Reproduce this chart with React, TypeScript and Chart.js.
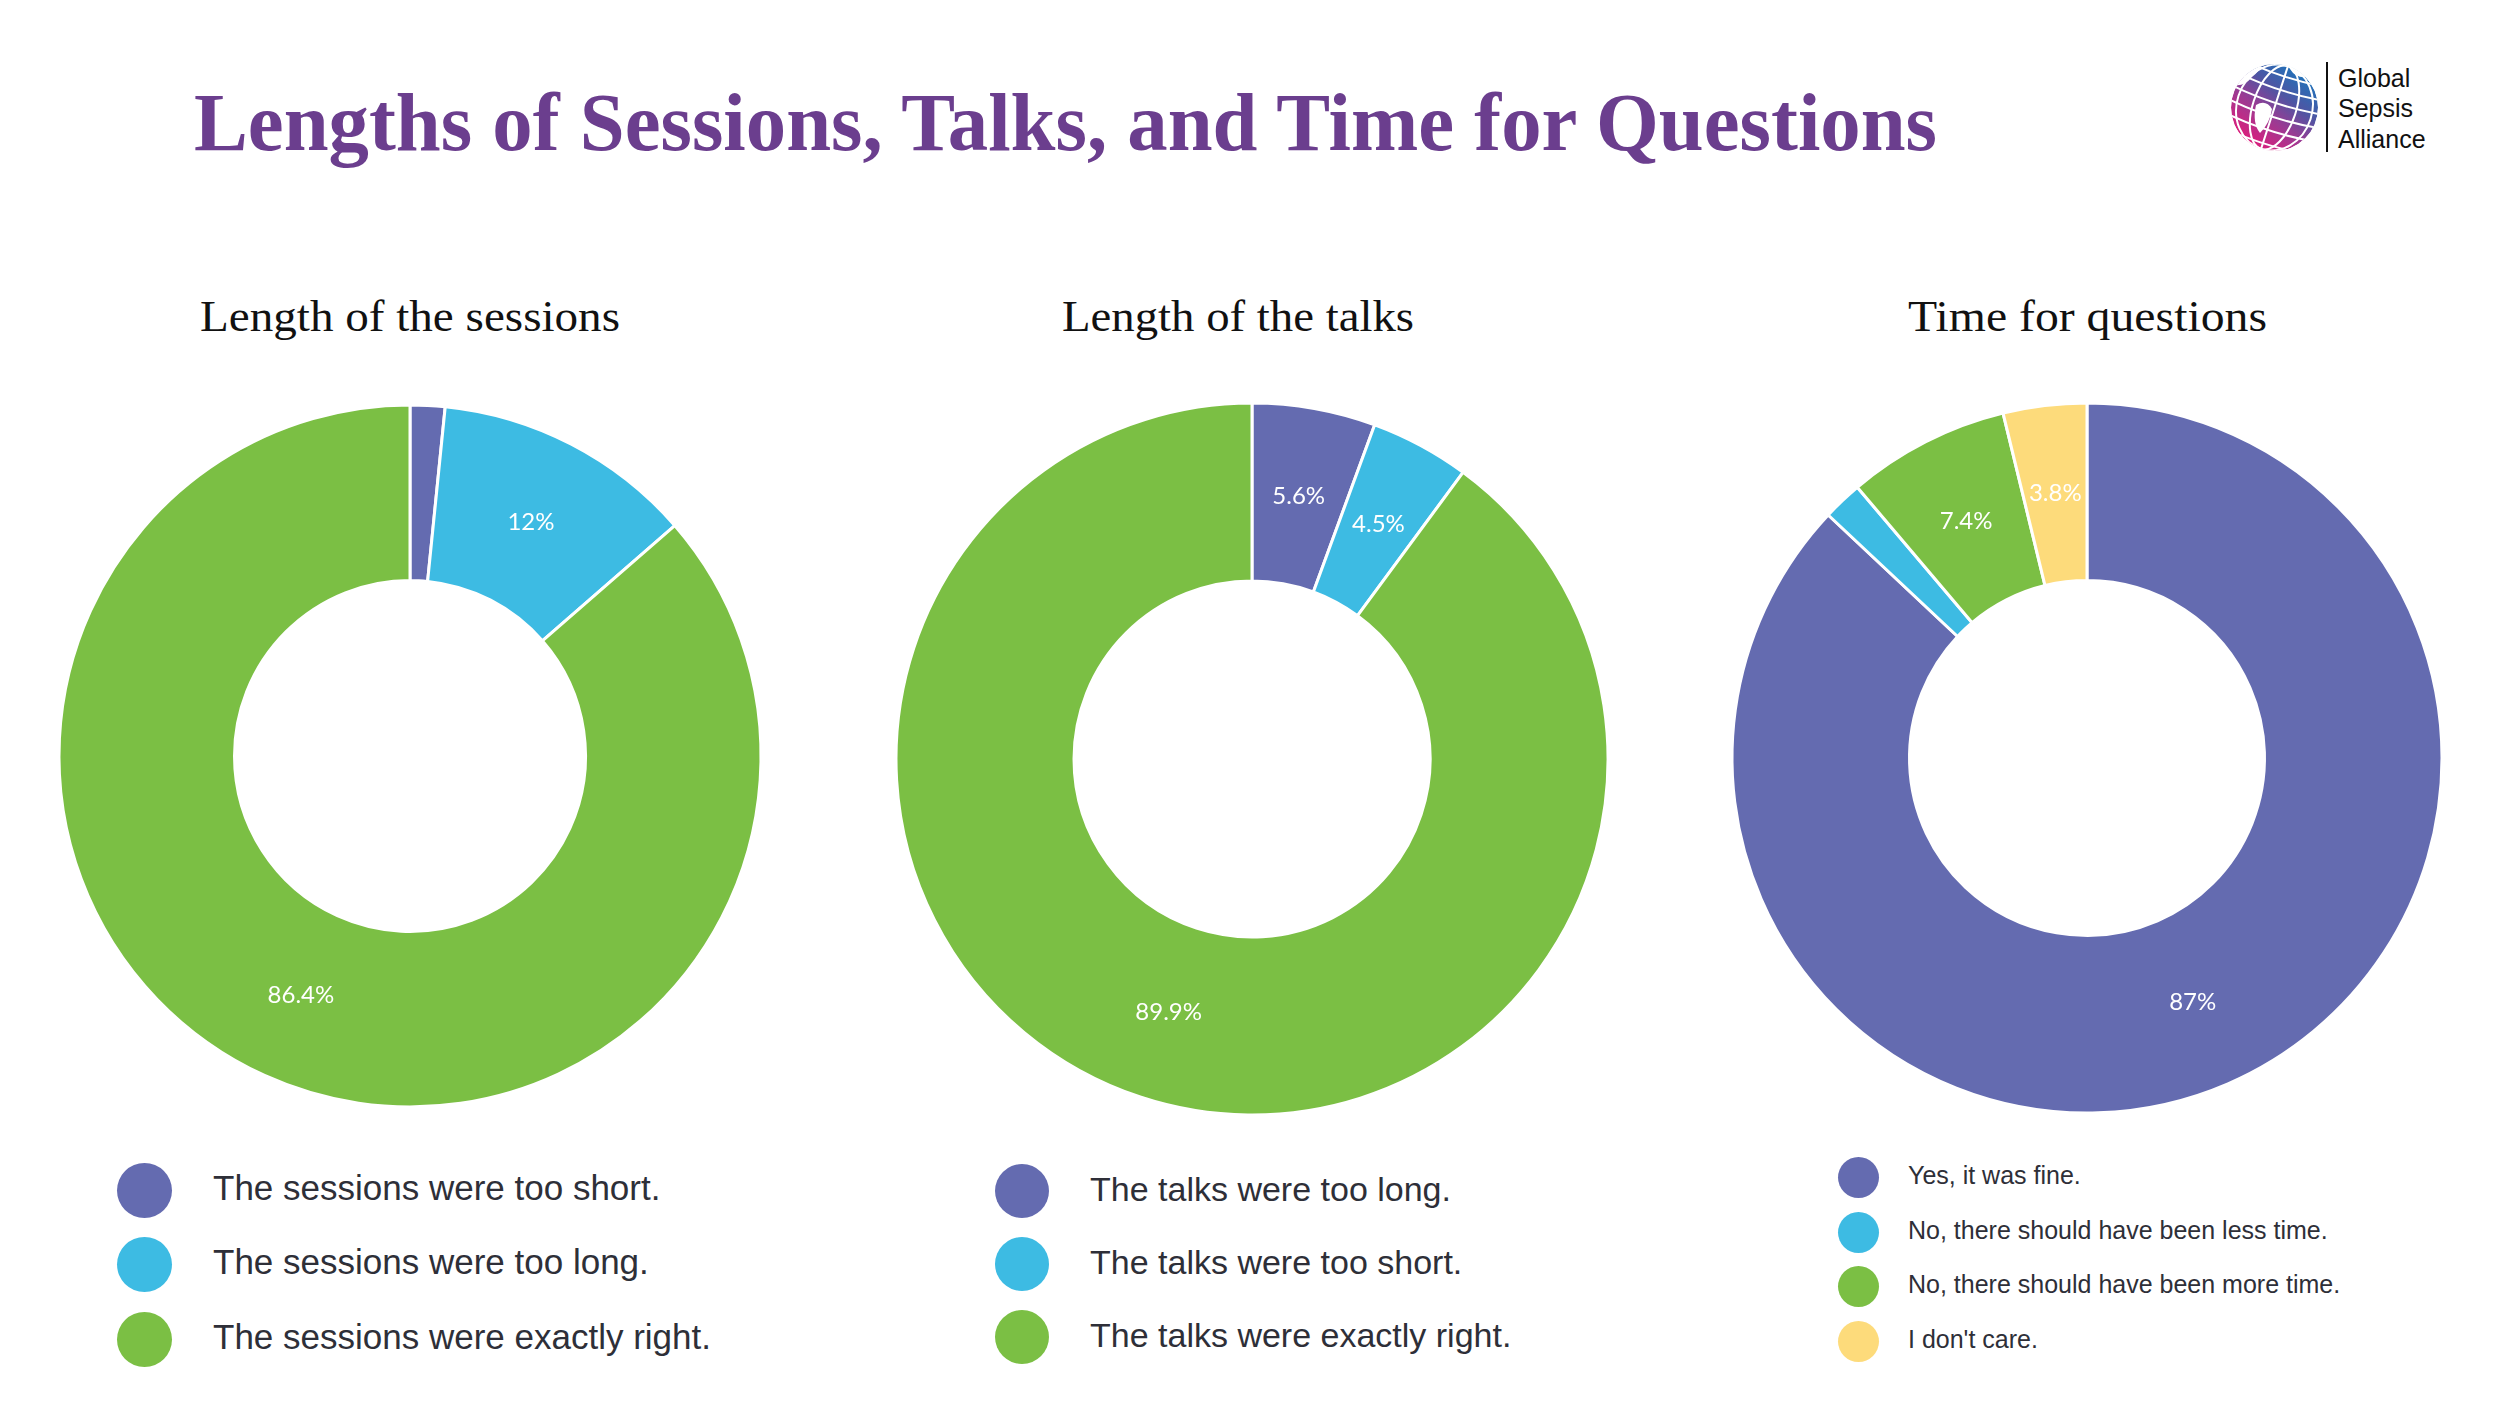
import React, { useEffect, useRef } from "react";
import { Chart, registerables } from "chart.js";

Chart.register(...registerables);

// Palette shared by the three doughnuts
const PURPLE = "#646bb0";
const BLUE = "#3dbbe3";
const GREEN = "#7bbf44";
const YELLOW = "#fddb7b";

const pageTitle = "Lengths of Sessions, Talks, and Time for Questions";

const sessionTitle = "Length of the sessions";
const sessionLabels = [
  "The sessions were too short.",
  "The sessions were too long.",
  "The sessions were exactly right.",
];
const sessionValues = [1.6, 12, 86.4];
const sessionColors = [PURPLE, BLUE, GREEN];

const talkTitle = "Length of the talks";
const talkLabels = [
  "The talks were too long.",
  "The talks were too short.",
  "The talks were exactly right.",
];
const talkValues = [5.6, 4.5, 89.9];
const talkColors = [PURPLE, BLUE, GREEN];

const questionTitle = "Time for questions";
const questionLabels = [
  "Yes, it was fine.",
  "No, there should have been less time.",
  "No, there should have been more time.",
  "I don't care.",
];
const questionValues = [87, 1.8, 7.4, 3.8];
const questionColors = [PURPLE, BLUE, GREEN, YELLOW];

const logoLines = ["Global", "Sepsis", "Alliance"];

// Slices smaller than this get no percentage label
const LABEL_MIN = 3;

const sliceLabels = {
  id: "sliceLabels",
  afterDatasetsDraw(chart: any) {
    const { ctx } = chart;
    const meta = chart.getDatasetMeta(0);
    const values = chart.data.datasets[0].data as number[];
    ctx.save();
    ctx.font = "24px Lato, 'Open Sans', sans-serif";
    ctx.fillStyle = "#ffffff";
    ctx.textAlign = "center";
    ctx.textBaseline = "middle";
    meta.data.forEach((arc: any, i: number) => {
      const v = values[i];
      if (v < LABEL_MIN) return;
      const p = arc.tooltipPosition(true);
      ctx.fillText(`${v}%`, p.x, p.y);
    });
    ctx.restore();
  },
};

type DonutProps = {
  labels: string[];
  values: number[];
  colors: string[];
  cx: number;
  cy: number;
  r: number;
};

function Donut({ labels, values, colors, cx, cy, r }: DonutProps) {
  const ref = useRef<HTMLCanvasElement>(null);
  const size = Math.ceil(2 * r + 16);
  useEffect(() => {
    const chart = new Chart(ref.current!, {
      type: "doughnut",
      data: {
        labels,
        datasets: [
          {
            data: values,
            backgroundColor: colors,
            borderColor: "#ffffff",
            borderWidth: 3,
            hoverOffset: 0,
          },
        ],
      },
      options: {
        responsive: false,
        animation: false,
        radius: r,
        cutout: "50%",
        layout: { padding: 0 },
        events: [],
        plugins: {
          legend: { display: false },
          tooltip: { enabled: false },
        },
      } as any,
      plugins: [sliceLabels],
    });
    return () => chart.destroy();
  }, []);
  return (
    <canvas
      ref={ref}
      width={size}
      height={size}
      style={{ position: "absolute", left: cx - size / 2, top: cy - size / 2 }}
    />
  );
}

type FitTextProps = {
  text: string;
  x: number;
  baseline: number;
  width: number;
  size: number;
  family: string;
  weight?: number;
  color: string;
  center?: boolean;
  ascent?: number;
};

// Text stretched horizontally to an exact width, placed by its baseline
function FitText({ text, x, baseline, width, size, family, weight = 400, color, center, ascent = 0.8375 }: FitTextProps) {
  const ref = useRef<HTMLSpanElement>(null);
  useEffect(() => {
    const el = ref.current;
    if (!el) return;
    const fit = () => {
      el.style.transform = "none";
      const w = el.getBoundingClientRect().width;
      if (w > 0) el.style.transform = `scaleX(${width / w})`;
    };
    fit();
    if ((document as any).fonts) (document as any).fonts.ready.then(fit);
  }, [text, width]);
  return (
    <span
      ref={ref}
      style={{
        position: "absolute",
        left: center ? x - width / 2 : x,
        top: baseline - size * ascent,
        fontFamily: family,
        fontSize: size,
        fontWeight: weight,
        lineHeight: `${size}px`,
        color,
        whiteSpace: "nowrap",
        transformOrigin: "left top",
        display: "inline-block",
      }}
    >
      {text}
    </span>
  );
}

type LegendProps = {
  labels: string[];
  colors: string[];
  cx: number;
  rows: number[];
  dot: number;
  textLeft: number;
  fontSize: number;
};

function Legend({ labels, colors, cx, rows, dot, textLeft, fontSize }: LegendProps) {
  return (
    <>
      {labels.map((lab, i) => (
        <React.Fragment key={lab}>
          <div
            style={{
              position: "absolute",
              left: cx - dot / 2,
              top: rows[i] - dot / 2,
              width: dot,
              height: dot,
              borderRadius: "50%",
              background: colors[i],
            }}
          />
          <div
            style={{
              position: "absolute",
              left: textLeft,
              top: rows[i] - 32,
              height: 60,
              display: "flex",
              alignItems: "center",
              fontFamily: "'Liberation Sans', Arial, sans-serif",
              fontSize,
              color: "#2e2f38",
              whiteSpace: "nowrap",
            }}
          >
            {lab}
          </div>
        </React.Fragment>
      ))}
    </>
  );
}

function Globe() {
  const meridians = [0, 0.5, 0.87];
  const parallels = [-36, -22, -8, 6, 20, 34];
  return (
    <svg
      width={100}
      height={100}
      viewBox="0 0 100 100"
      style={{ position: "absolute", left: 2224, top: 57 }}
    >
      <defs>
        <linearGradient id="gsaGrad" x1="0.85" y1="0.05" x2="0.15" y2="0.95">
          <stop offset="0" stopColor="#1579bf" />
          <stop offset="0.35" stopColor="#4f55a3" />
          <stop offset="0.6" stopColor="#9a3b93" />
          <stop offset="1" stopColor="#ea1877" />
        </linearGradient>
        <clipPath id="gsaClip">
          <circle cx="50.5" cy="50.5" r="43.5" />
        </clipPath>
      </defs>
      <g clipPath="url(#gsaClip)">
        <circle cx="50.5" cy="50.5" r="43.5" fill="url(#gsaGrad)" />
        <path d="M6 4 L40 4 Q36 14 28 20 Q20 30 10 28 L6 26 Z" fill="#fff" />
        <path d="M62 4 L96 4 L96 30 Q88 26 84 20 Q72 22 66 12 Z" fill="#fff" />
        <path d="M32 48 Q42 42 48 52 Q46 66 36 76 Q28 66 32 48 Z" fill="#fff" />
        <path d="M70 90 Q84 80 96 86 L96 98 L70 98 Z" fill="#fff" />
        <g transform="rotate(18 50.5 50.5)" stroke="#fff" strokeWidth="2" fill="none">
          {meridians.map((m) => (
            <ellipse key={m} cx="50.5" cy="50.5" rx={43.5 * m + 0.01} ry="43.5" />
          ))}
          {parallels.map((p) => (
            <path key={p} d={`M2 ${50.5 + p} Q50.5 ${50.5 + p + 7} 99 ${50.5 + p}`} />
          ))}
        </g>
      </g>
    </svg>
  );
}

export default function App() {
  return (
    <div
      style={{
        position: "absolute",
        left: 0,
        top: 0,
        width: 2500,
        height: 1406,
        background: "#ffffff",
        overflow: "hidden",
      }}
    >
      <FitText
        text={pageTitle}
        x={194}
        baseline={151}
        width={1743}
        size={82}
        family="'Liberation Serif', 'Times New Roman', serif"
        weight={700}
        color="#6b3e8e"
      />

      <Globe />
      <div style={{ position: "absolute", left: 2326, top: 62, width: 2, height: 90, background: "#111" }} />
      {logoLines.map((t, i) => (
        <span
          key={t}
          style={{
            position: "absolute",
            left: 2338,
            top: [87, 117, 148][i] - 25 * 0.8465,
            fontFamily: "'Liberation Sans', Arial, sans-serif",
            fontSize: 25,
            lineHeight: "25px",
            color: "#111",
            whiteSpace: "nowrap",
          }}
        >
          {t}
        </span>
      ))}

      <FitText text={sessionTitle} x={410} baseline={332} width={420} size={45} family="'Liberation Serif', serif" color="#111" center />
      <FitText text={talkTitle} x={1238} baseline={332} width={352} size={45} family="'Liberation Serif', serif" color="#111" center />
      <FitText text={questionTitle} x={2087} baseline={332} width={359} size={45} family="'Liberation Serif', serif" color="#111" center />

      <Donut labels={sessionLabels} values={sessionValues} colors={sessionColors} cx={410} cy={756} r={351} />
      <Donut labels={talkLabels} values={talkValues} colors={talkColors} cx={1252} cy={759} r={356} />
      <Donut labels={questionLabels} values={questionValues} colors={questionColors} cx={2087} cy={758} r={355} />

      <Legend labels={sessionLabels} colors={sessionColors} cx={144} rows={[1190, 1264, 1339]} dot={55} textLeft={213} fontSize={35} />
      <Legend labels={talkLabels} colors={talkColors} cx={1022} rows={[1191, 1264, 1337]} dot={54} textLeft={1090} fontSize={34} />
      <Legend labels={questionLabels} colors={questionColors} cx={1858} rows={[1177, 1232, 1286, 1341]} dot={41} textLeft={1908} fontSize={25} />
    </div>
  );
}
